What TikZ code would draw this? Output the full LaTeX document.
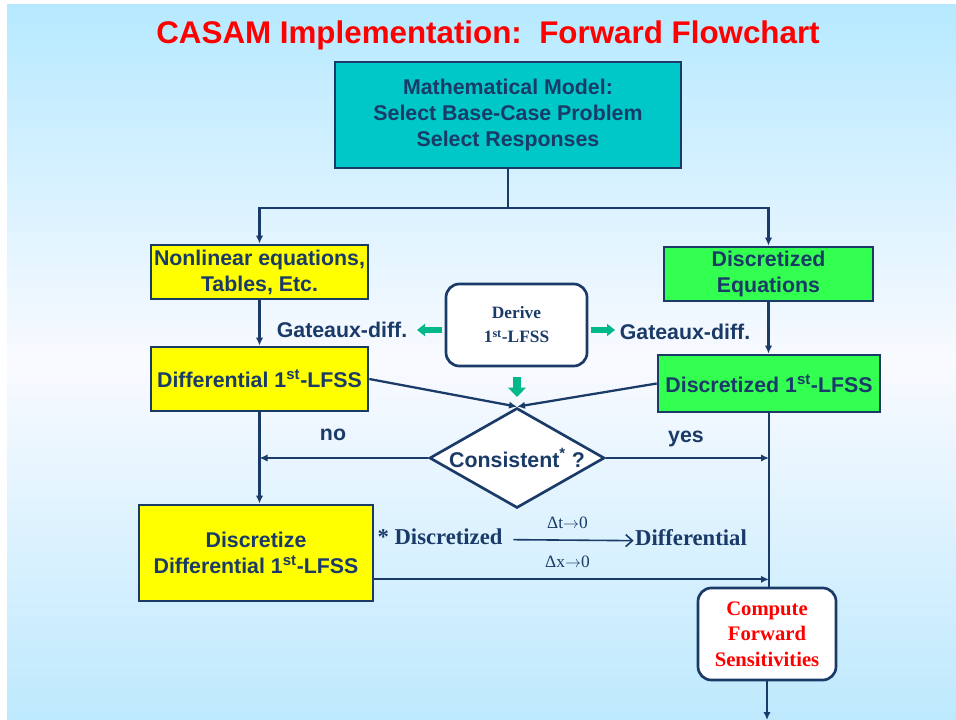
\documentclass[tikz,border=0pt]{standalone}
\usepackage{fontspec}
\setmainfont{Liberation Sans}
\newfontfamily\seriffont{Liberation Serif}
\usetikzlibrary{shapes.geometric,arrows.meta,calc}
\definecolor{navy}{HTML}{1A3A68}
\definecolor{tealbox}{HTML}{00C8C8}
\definecolor{yellowbox}{HTML}{FFFF00}
\definecolor{greenbox}{HTML}{33FF50}
\definecolor{garrowc}{HTML}{00B88A}
\definecolor{bgtop}{HTML}{B6E9FF}
\definecolor{bgmid}{HTML}{F9FAFF}
\definecolor{bgbot}{HTML}{BDE9FD}
\tikzset{
  box/.style={draw=navy, line width=2pt, inner sep=0pt, align=center, text=navy,
    font=\fontsize{16}{19.5}\selectfont\bfseries},
  rbox/.style={box, fill=white, rounded corners=10pt},
  conn/.style={draw=navy, line width=1.7pt, -{Latex[length=6pt,width=5.5pt]}},
  plainline/.style={draw=navy, line width=1.7pt},
  lbl/.style={text=navy, inner sep=0pt, font=\fontsize{16}{19.5}\selectfont\bfseries},
  slbl/.style={text=navy, inner sep=0pt, font=\seriffont\fontsize{17}{20}\selectfont\bfseries},
  garrowh/.style={draw=garrowc, line width=4pt, -{Triangle[length=6pt,width=9pt]}},
  garrowv/.style={draw=garrowc, line width=6.5pt, -{Triangle[length=7pt,width=13pt]}}
}
\begin{document}
\begin{tikzpicture}[x=0.75pt,y=-0.75pt]
\useasboundingbox (0,0) rectangle (956,720);
\fill[white] (0,0) rectangle (956,720);
\shade[top color=bgtop, bottom color=bgbot, middle color=bgmid] (7,5) rectangle (956,720);

% title
\node[text=red, inner sep=0pt, font=\fontsize{23.5}{28}\selectfont\bfseries] (title) at (488,35)
  {CASAM Implementation:\ \ Forward Flowchart};

% boxes
\node[box, fill=tealbox, minimum width=259.5pt, minimum height=79.5pt] (top) at (508,115)
  {Mathematical Model:\\Select Base-Case Problem\\Select Responses};
\node[box, fill=yellowbox, minimum width=162.75pt, minimum height=40.5pt] (nonlin) at (259.5,272)
  {Nonlinear equations,\\Tables, Etc.};
\node[box, fill=greenbox, minimum width=156.75pt, minimum height=40.5pt] (disceq) at (768.5,274)
  {Discretized\\Equations};
\node[rbox, minimum width=105.75pt, minimum height=61.5pt,
  font=\seriffont\fontsize{13}{18}\selectfont\bfseries] (derive) at (516.5,325)
  {Derive\\1\textsuperscript{st}-LFSS};
\node[box, fill=yellowbox, minimum width=162.75pt, minimum height=48pt] (diff) at (259.5,379)
  {Differential 1\textsuperscript{st}-LFSS};
\node[box, fill=greenbox, minimum width=166.5pt, minimum height=42.75pt] (disc1) at (769,383.5)
  {Discretized 1\textsuperscript{st}-LFSS};
\node[diamond, draw=navy, fill=white, line width=2pt, minimum width=131.25pt,
  minimum height=75pt, inner sep=0pt] (cons) at (517,458) {};
\node[lbl] (constext) at (cons) {Consistent\textsuperscript{*} ?};
\node[box, fill=yellowbox, minimum width=175.5pt, minimum height=72pt] (disc2) at (256,553)
  {Discretize\\Differential 1\textsuperscript{st}-LFSS};
\node[rbox, minimum width=103.5pt, minimum height=69pt, text=red,
  font=\seriffont\fontsize{15.5}{19}\selectfont\bfseries] (comp) at (767,634)
  {Compute\\Forward\\Sensitivities};

% green arrows
\coordinate (glend) at (417,330);
\coordinate (grend) at (615,330);
\coordinate (gdstart) at (517,377);
\coordinate (gdend) at (517,397);
\draw[garrowh] ([xshift=-2pt]derive.west |- glend) -- (glend);
\draw[garrowh] ([xshift=2pt]derive.east |- grend) -- (grend);
\draw[garrowv] (gdstart) -- (gdend);

% labels
\node[lbl] (gatl) at (342,330) {Gateaux-diff.};
\node[lbl] (gatr) at (685,332) {Gateaux-diff.};
\node[lbl] (no) at (333,435) {no};
\node[lbl] (yes) at (686,439) {yes};
\node[slbl] (discz) at (440,537) {* Discretized};
\node[slbl] (diffl) at (691,538) {Differential};

% connectors
\coordinate (split) at (508,208);
\draw[plainline] (top.south) -- (split);
\draw[conn] (split) -| (nonlin.north);
\draw[conn] (split) -| (disceq.north);
\draw[conn] (nonlin.south) -- (diff.north);
\draw[conn] (disceq.south) -- (disceq.south |- disc1.north);
\draw[conn] (diff.east) -- (cons.north);
\draw[conn] (disc1.west) -- (cons.north);
\coordinate (nojoin) at (diff.south |- cons.west);
\draw[conn] (cons.west) -- (nojoin);
\draw[conn] (diff.south) -- (diff.south |- disc2.north);
\coordinate (yesjoin) at (disc1.south |- cons.east);
\draw[conn] (cons.east) -- (yesjoin);
\draw[plainline] (disc1.south) -- (disc1.south |- comp.north);
\coordinate (d2out) at ($(disc2.south east)+(0,-23)$);
\draw[conn] (d2out) -- (disc1.south |- d2out);
\coordinate (bottomend) at (comp.south |- 0,720);
\draw[conn] (comp.south) -- (bottomend);

% limit arrow
\draw[navy, line width=1.2pt, -{Straight Barb[length=5pt,width=9pt]}]
  ([xshift=8pt,yshift=-2pt]discz.east) -- ([xshift=-1pt,yshift=-2pt]diffl.west)
  node[pos=0.45, above=8pt, text=navy, inner sep=0pt, font=\seriffont\fontsize{13}{15}\selectfont] (dt) {Δt$\rightarrow$0}
  node[pos=0.45, below=11pt, text=navy, inner sep=0pt, font=\seriffont\fontsize{13}{15}\selectfont] (dx) {Δx$\rightarrow$0};
\end{tikzpicture}
\end{document}
